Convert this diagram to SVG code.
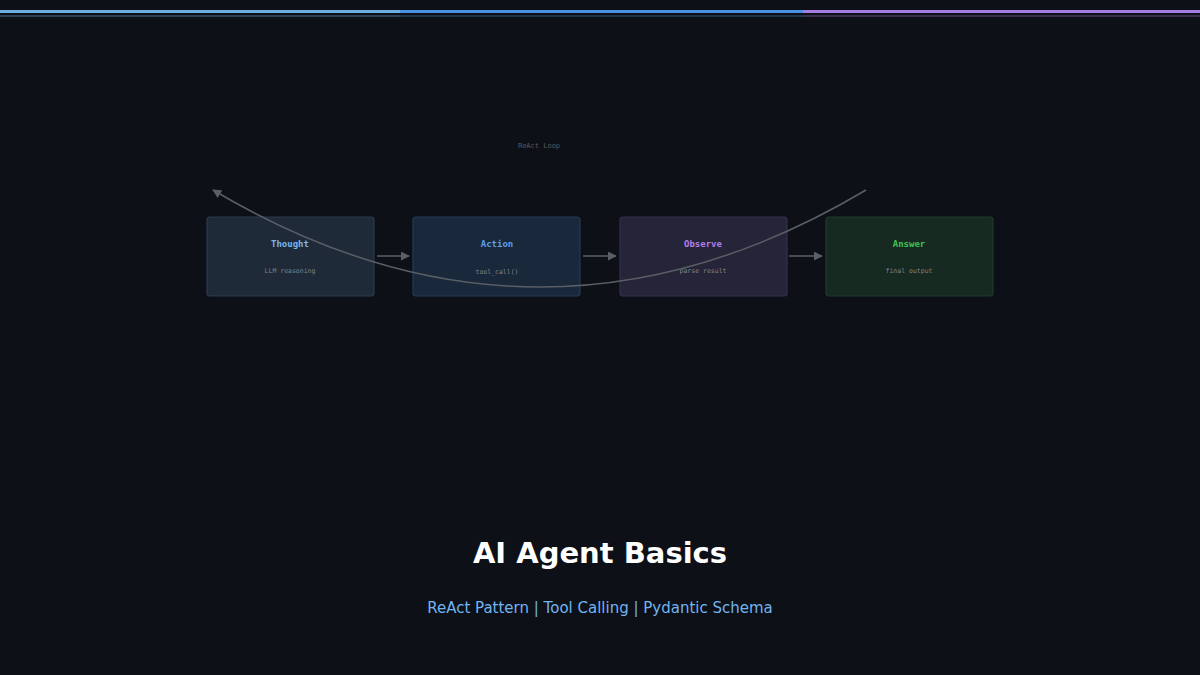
<svg xmlns="http://www.w3.org/2000/svg" width="1200" height="675" viewBox="0 0 1200 675">
<defs>
<marker id="ah" viewBox="0 0 10 10" refX="9" refY="5" markerWidth="6" markerHeight="6" orient="auto-start-reverse"><path d="M0,0 L10,5 L0,10 z" fill="#5a5f66"/></marker>
<style>
.box{stroke-width:1.2}
.t{font-family:"DejaVu Sans Mono",monospace;font-size:9px;font-weight:bold;text-anchor:middle}
.s{font-family:"DejaVu Sans Mono",monospace;font-size:6.5px;fill:#7d848c;text-anchor:middle}
.c{stroke:#5a5f66;stroke-width:1.5;fill:none}
</style>
</defs>
<rect width="1200" height="675" fill="#0d1017"/>
<rect x="0" y="10" width="400" height="3" fill="#6aaee0"/>
<rect x="400" y="10" width="403" height="3" fill="#4a90e2"/>
<rect x="803" y="10" width="397" height="3" fill="#a57de0"/>
<rect x="0" y="15" width="400" height="2" fill="#2a4050"/>
<rect x="400" y="15" width="403" height="2" fill="#1e3448"/>
<rect x="803" y="15" width="397" height="2" fill="#3a2e4a"/>
<text x="539" y="148" font-family="DejaVu Sans Mono,monospace" font-size="7px" fill="#555a62" text-anchor="middle">ReAct Loop</text>
<g id="thought"><rect class="box" x="207" y="217" width="167" height="79" rx="3" fill="#1e2a38" stroke="#2b3b4c"/><text class="t" x="290" y="247" fill="#7ab6ea">Thought</text><text class="s" x="290" y="273">LLM reasoning</text></g>
<g id="action"><rect class="box" x="413" y="217" width="167" height="79" rx="3" fill="#19283b" stroke="#243a52"/><text class="t" x="497" y="247" fill="#5a9ee8">Action</text><text class="s" x="497" y="274">tool_call()</text></g>
<g id="observe"><rect class="box" x="620" y="217" width="167" height="79" rx="3" fill="#252438" stroke="#33314a"/><text class="t" x="703" y="247" fill="#b07ee8">Observe</text><text class="s" x="703" y="273">parse result</text></g>
<g id="answer"><rect class="box" x="826" y="217" width="167" height="79" rx="3" fill="#172a22" stroke="#1f3a2c"/><text class="t" x="909" y="247" fill="#3ec055">Answer</text><text class="s" x="909" y="273">final output</text></g>
<g id="connectors">
<line class="c" x1="377" y1="256" x2="409" y2="256" marker-end="url(#ah)"/>
<line class="c" x1="583" y1="256" x2="616" y2="256" marker-end="url(#ah)"/>
<line class="c" x1="789" y1="256" x2="822" y2="256" marker-end="url(#ah)"/>
<path class="c" d="M866,190 Q540,384 213,190" stroke-width="1.2" marker-end="url(#ah)"/>
</g>
<text x="600" y="563" font-family="DejaVu Sans,sans-serif" font-size="29px" font-weight="bold" fill="#ffffff" text-anchor="middle">AI Agent Basics</text>
<text x="600" y="613" font-family="DejaVu Sans,sans-serif" font-size="15px" fill="#72b4f0" text-anchor="middle">ReAct Pattern  |  Tool Calling  |  Pydantic Schema</text>
</svg>
